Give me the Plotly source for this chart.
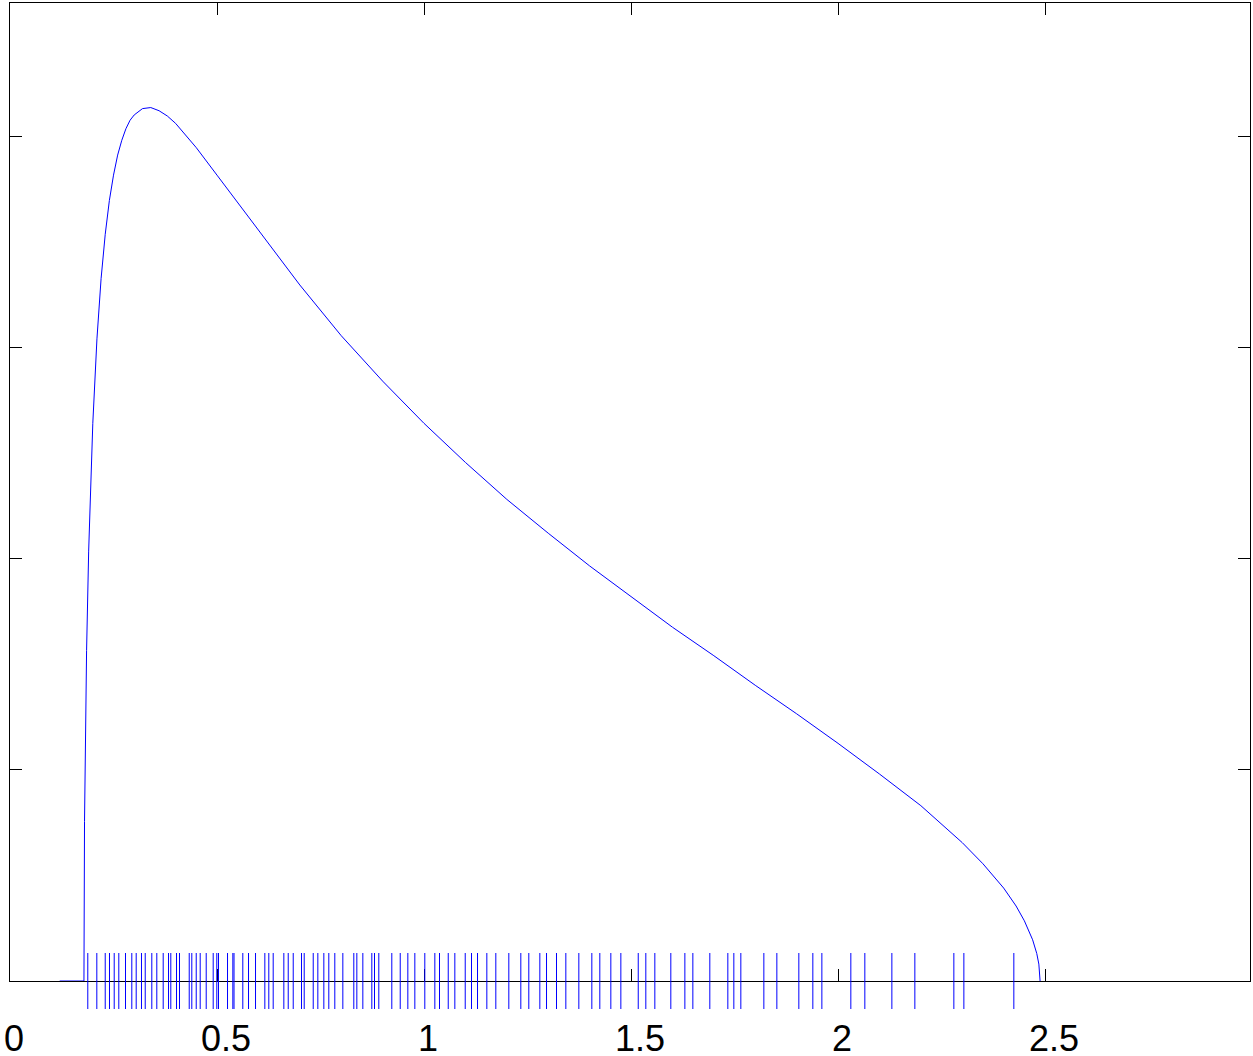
import plotly.graph_objects as go

# Density curve points (x, density)
curve_x = [0.12, 0.15, 0.1786, 0.18, 0.182, 0.185, 0.19, 0.195, 0.20, 0.21, 0.22, 0.23,
           0.24, 0.25, 0.26, 0.27, 0.28, 0.29, 0.30, 0.32, 0.34, 0.36, 0.38, 0.40, 0.425,
           0.45, 0.50, 0.55, 0.60,
           0.65, 0.70, 0.80, 0.90, 1.00, 1.10, 1.20, 1.30, 1.40, 1.50, 1.60, 1.70, 1.80,
           1.90, 2.00, 2.10, 2.20, 2.30, 2.35, 2.40, 2.43, 2.45, 2.47, 2.48, 2.485, 2.488]
curve_y = [0.0, 0.0, 0.0, 0.151, 0.232, 0.313, 0.407, 0.475, 0.528, 0.608, 0.665, 0.707,
           0.739, 0.763, 0.782, 0.796, 0.807, 0.815, 0.820, 0.826, 0.827, 0.824, 0.819, 0.812, 0.801,
           0.789, 0.763, 0.737, 0.710,
           0.684, 0.659, 0.611, 0.568, 0.528, 0.491, 0.456, 0.424, 0.393, 0.364, 0.335, 0.308, 0.280,
           0.253, 0.225, 0.196, 0.166, 0.131, 0.111, 0.088, 0.071, 0.057, 0.039, 0.026, 0.016, 0.0]

# Observed sample values shown as rug marks
rug_x = [0.1879, 0.2097, 0.2300, 0.2403, 0.2517, 0.2628, 0.2790, 0.2942, 0.3048, 0.3176,
         0.3266, 0.3425, 0.3546, 0.3700, 0.3829, 0.3884, 0.4022, 0.4094, 0.4329, 0.4391,
         0.4498, 0.4594, 0.4739, 0.4908, 0.4995, 0.5036, 0.5254, 0.5382, 0.5411,
         0.5623, 0.5761, 0.5930, 0.6155, 0.6251, 0.6357, 0.6614, 0.6720, 0.6841, 0.7041,
         0.7106, 0.7324, 0.7435, 0.7580, 0.7700, 0.7845, 0.8039, 0.8304, 0.8377, 0.8522,
         0.8739, 0.8804, 0.8908, 0.9222,
         0.9425, 0.9609, 0.9778, 1.0019, 1.0261, 1.0374, 1.0585, 1.0744, 1.0995, 1.1147,
         1.1292, 1.1517, 1.1734, 1.2048, 1.2338, 1.2531, 1.2797, 1.2959, 1.3200,
         1.3425, 1.3739, 1.4053, 1.4246, 1.4512, 1.4754, 1.5174, 1.5357, 1.5575, 1.5961,
         1.6300, 1.6493, 1.6903,
         1.7338, 1.7483, 1.7652, 1.8208, 1.8522, 1.9053, 1.9391, 1.9609, 2.0309, 2.0647,
         2.1300, 2.1855, 2.2797, 2.3039, 2.4246]
rug_y = [0.0] * len(rug_x)

x_tickvals = [0, 0.5, 1, 1.5, 2, 2.5]
x_ticktext = ["0", "\u00a00.5", "1", "\u00a01.5", "2", "\u00a02.5"]
y_tickvals = [0.2, 0.4, 0.6, 0.8]

fig = go.Figure()
fig.add_trace(go.Scatter(
    x=curve_x, y=curve_y, mode="lines",
    line=dict(color="#0000ff", width=1),
    showlegend=False, hoverinfo="skip"))
fig.add_trace(go.Scatter(
    x=rug_x, y=rug_y, mode="markers",
    marker=dict(symbol="line-ns", size=40, color="#0000ff",
                line=dict(color="#0000ff", width=1)),
    cliponaxis=False, showlegend=False, hoverinfo="skip"))

fig.update_layout(
    width=1253, height=1056,
    margin=dict(l=10, r=3, t=3, b=75, autoexpand=False),
    paper_bgcolor="white", plot_bgcolor="white",
    font=dict(family="Liberation Sans, Arial, sans-serif", size=36, color="black"),
    showlegend=False,
)
fig.update_xaxes(
    range=[0, 2.995], tickmode="array", tickvals=x_tickvals, ticktext=x_ticktext,
    ticks="inside", ticklen=12, tickwidth=1, tickcolor="black",
    showline=True, linecolor="black", linewidth=1, mirror="ticks",
    showgrid=False, zeroline=False, layer="below traces", automargin=False,
    tickfont=dict(size=36, color="black"), ticklabelshift=4, ticklabelstandoff=26,
)
fig.update_yaxes(
    range=[0, 0.926], tickmode="array", tickvals=y_tickvals,
    showticklabels=False, automargin=False,
    ticks="inside", ticklen=12, tickwidth=1, tickcolor="black",
    showline=True, linecolor="black", linewidth=1, mirror="ticks",
    showgrid=False, zeroline=False, layer="below traces",
)

fig.write_html(
    "out.html",
    config={"displayModeBar": False, "staticPlot": True},
    post_script="document.body.style.margin='0';document.body.style.padding='0';"
                "document.body.style.overflow='hidden';",
)
